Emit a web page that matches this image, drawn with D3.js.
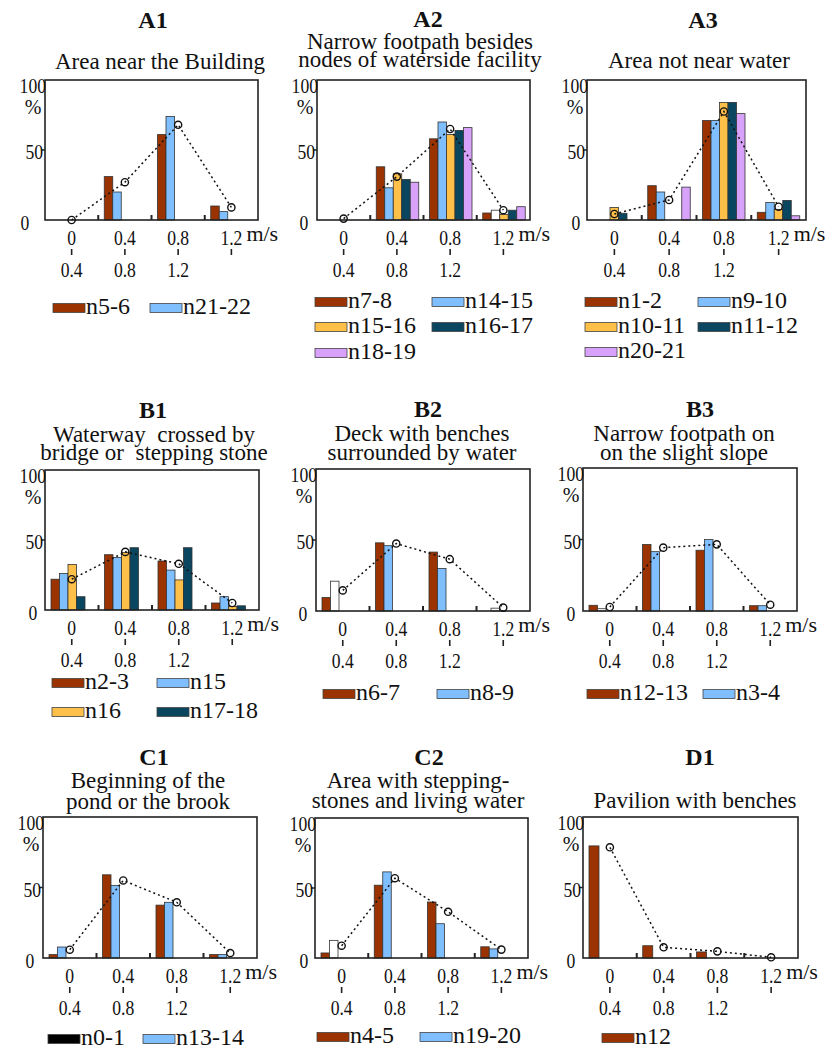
<!DOCTYPE html>
<html>
<head>
<meta charset="utf-8">
<script src="https://cdn.jsdelivr.net/npm/d3@7"></script>
<style>
  body { margin: 0; background: #fff; }
  svg { display: block; }
  text { font-family: "Liberation Serif", "Times New Roman", "DejaVu Serif", serif; fill: #111; }
</style>
</head>
<body>
<svg id="chart" width="825" height="1051"></svg>
<script>
// speed classes (m/s)
const bins = ["0", "0.4", "0.8", "1.2"];
const binUpper = ["0.4", "0.8", "1.2", ""];

const a1Names = ["n5-6", "n21-22"];
const a1Values = [[0, 31, 61, 10], [0, 20, 74, 6]];
const a1Mean = [0, 27, 68, 9];

const a2Names = ["n7-8", "n14-15", "n15-16", "n16-17", "n18-19"];
const a2Values = [[0, 38, 58, 5], [0, 23, 70, 7], [0, 33, 61, 4], [0, 29, 64, 7], [0, 27, 66, 9.5]];
const a2Mean = [1, 31, 65, 7];

const a3Names = ["n1-2", "n9-10", "n10-11", "n11-12", "n20-21"];
const a3Values = [[0, 24.5, 71, 5.5], [0, 20, 71, 12.5], [9, 0, 84, 7.5], [4.8, 0, 84, 14], [0, 23.5, 76, 3]];
const a3Mean = [4.3, 14.3, 77.5, 9.5];

const b1Names = ["n2-3", "n15", "n16", "n17-18"];
const b1Values = [[22, 39.5, 35, 5], [26, 37.5, 28.5, 9.5], [32.5, 41, 21.5, 2.5], [9.5, 44.5, 44.5, 3]];
const b1Mean = [22, 41.5, 33, 5];

const b2Names = ["n6-7", "n8-9"];
const b2Values = [[9.5, 48, 41.5, 0], [21, 46, 30, 2]];
const b2Mean = [14.5, 47.5, 36.5, 2.4];

const b3Names = ["n12-13", "n3-4"];
const b3Values = [[4, 46.5, 42.5, 3.7], [1.6, 41.5, 50, 3.7]];
const b3Mean = [2.8, 44.3, 46.6, 4.4];

const c1Names = ["n0-1", "n13-14"];
const c1Values = [[2.4, 59, 37.5, 2.4], [7.8, 51.5, 39.5, 2.4]];
const c1Mean = [5.9, 55, 39.5, 3.5];

const c2Names = ["n4-5", "n19-20"];
const c2Values = [[3.6, 52, 40, 8], [12.6, 61.5, 24.5, 6.5]];
const c2Mean = [8.8, 57, 33, 6];

const d1Names = ["n12"];
const d1Values = [[79.5, 8.7, 4.3, 0]];
const d1Mean = [78.5, 7.6, 4.7, 0.5];

// bars drawn without fill in the original, as [series, bin]
const hollowA2 = [[1, 3]];
const hollowB2 = [[1, 0], [1, 3]];
const hollowB3 = [[1, 0]];
const hollowC2 = [[1, 0]];

const colors = ["#9a3300", "#80bfff", "#ffc04a", "#0a4660", "#d8a2fb"];

// layout of each panel (positions only)
const panels = [
  { id: "A1", sub: ["Area near the Building"], names: a1Names, values: a1Values, mean: a1Mean, hollow: [],
    box: [45, 258, 80, 220], titleY: 28, titleX: 153, subX: 160, subY: [69], zeroDx: -20,
    legX: [53, 150], legY: [308] },
  { id: "A2", sub: ["Narrow footpath besides", "nodes of waterside facility"], names: a2Names, values: a2Values, mean: a2Mean, hollow: hollowA2,
    box: [317, 530, 80, 220], titleY: 27, titleX: 428, subX: 420, subY: [49, 67], zeroDx: -13,
    legX: [315, 432], legY: [302, 327, 353] },
  { id: "A3", sub: ["Area not near water"], names: a3Names, values: a3Values, mean: a3Mean, hollow: [],
    box: [587, 806, 80, 220], titleY: 28, titleX: 703, subX: 699, subY: [68], zeroDx: -11,
    legX: [585, 698], legY: [302, 327, 352] },
  { id: "B1", sub: ["Waterway  crossed by", "bridge or  stepping stone"], names: b1Names, values: b1Values, mean: b1Mean, hollow: [],
    box: [45, 259, 470, 610], titleY: 418, titleX: 153, subX: 154, subY: [442, 460], zeroDx: -12,
    legX: [52, 157], legY: [683, 712] },
  { id: "B2", sub: ["Deck with benches", "surrounded by water"], names: b2Names, values: b2Values, mean: b2Mean, hollow: hollowB2,
    box: [316, 530, 469, 611], titleY: 417, titleX: 428, subX: 422, subY: [441, 460], zeroDx: -13,
    legX: [323, 437], legY: [694] },
  { id: "B3", sub: ["Narrow footpath on", "on the slight slope"], names: b3Names, values: b3Values, mean: b3Mean, hollow: hollowB3,
    box: [583, 797, 468, 611], titleY: 417, titleX: 700, subX: 684, subY: [441, 460], zeroDx: -12,
    legX: [587, 703], legY: [694] },
  { id: "C1", sub: ["Beginning of the", "pond or the brook"], names: c1Names, values: c1Values, mean: c1Mean, hollow: [],
    box: [43, 257, 817, 958], titleY: 765, titleX: 154, subX: 148, subY: [788, 809], zeroDx: -13,
    legX: [48, 143], legY: [1039], legendColors: ["#000"] },
  { id: "C2", sub: ["Area with stepping-", "stones and living water"], names: c2Names, values: c2Values, mean: c2Mean, hollow: hollowC2,
    box: [315, 528, 818, 958], titleY: 765, titleX: 429, subX: 418, subY: [788, 808], zeroDx: -11,
    legX: [317, 420], legY: [1037] },
  { id: "D1", sub: ["Pavilion with benches"], names: d1Names, values: d1Values, mean: d1Mean, hollow: [],
    box: [583, 798, 817, 958], titleY: 765, titleX: 700, subX: 695, subY: [808], zeroDx: -12,
    legX: [602], legY: [1038], barW: 10 }
];

const svg = d3.select("#chart");
svg.append("rect").attr("width", 825).attr("height", 1051).attr("fill", "#fff");

// narrow digits like the original figure
function narrowText(g, x, y, txt, anchor) {
  g.append("text")
    .attr("transform", `translate(${x},${y}) scale(0.8,1)`)
    .attr("text-anchor", anchor)
    .style("font-size", "22px")
    .text(txt);
}

panels.forEach(p => {
  const [x0, x1, y0, y1] = p.box;
  const g = svg.append("g").attr("class", "panel " + p.id);

  const x = d3.scaleBand().domain(bins).range([x0, x1]);
  const y = d3.scaleLinear().domain([0, 100]).range([y1, y0]);
  const bw = p.barW || 8.5;
  const inner = d3.scaleBand().domain(d3.range(p.names.length))
    .range([6, 6 + bw * p.names.length]);

  // titles
  g.append("text").attr("x", p.titleX).attr("y", p.titleY)
    .attr("text-anchor", "middle")
    .style("font-size", "24px").style("font-weight", "bold")
    .text(p.id);
  p.sub.forEach((s, i) => {
    g.append("text").attr("x", p.subX).attr("y", p.subY[i])
      .attr("text-anchor", "middle")
      .style("font-size", "23px").style("white-space", "pre")
      .text(s);
  });

  // bars
  const isHollow = (s, b) => p.hollow.some(h => h[0] === s && h[1] === b);
  p.values.forEach((row, s) => {
    g.selectAll("rect.s" + s)
      .data(row.map((v, b) => ({ v, b })).filter(d => d.v > 0))
      .join("rect")
      .attr("class", "s" + s)
      .attr("x", d => x(bins[d.b]) + inner(s))
      .attr("width", inner.bandwidth())
      .attr("y", d => y(d.v))
      .attr("height", d => y(0) - y(d.v))
      .attr("fill", d => isHollow(s, d.b) ? "#fff" : colors[s])
      .attr("stroke", "#333")
      .attr("stroke-width", 0.8);
  });

  // box
  g.append("rect").attr("x", x0).attr("y", y0)
    .attr("width", x1 - x0).attr("height", y1 - y0)
    .attr("fill", "none").attr("stroke", "#222").attr("stroke-width", 1.6);

  // separators at group edges
  bins.slice(1).forEach(b => {
    g.append("line").attr("x1", x(b)).attr("x2", x(b))
      .attr("y1", y1 - 5).attr("y2", y1)
      .attr("stroke", "#222").attr("stroke-width", 2);
  });

  // y axis labels
  g.append("line").attr("x1", x0 - 4).attr("x2", x0)
    .attr("y1", y(50)).attr("y2", y(50))
    .attr("stroke", "#222").attr("stroke-width", 1.5);
  narrowText(g, x0 + 1, y(100) + 13, "100", "end");
  g.append("text").attr("x", x0 - 12).attr("y", y(100) + 34)
    .attr("text-anchor", "middle").style("font-size", "20px").text("%");
  narrowText(g, x0 - 2, y(50) + 9, "50", "end");
  narrowText(g, x0 + p.zeroDx, y(0) + 10, "0", "middle");

  // x axis labels: lower bound, tick, upper bound
  bins.forEach((b, i) => {
    const cx = x(b) + x.bandwidth() / 2;
    narrowText(g, cx, y1 + 25, b, "middle");
    g.append("line").attr("x1", cx).attr("x2", cx)
      .attr("y1", y1 + 29).attr("y2", y1 + 35)
      .attr("stroke", "#222").attr("stroke-width", 1.6);
    if (binUpper[i]) narrowText(g, cx, y1 + 57, binUpper[i], "middle");
  });
  g.append("text").attr("x", x(bins[3]) + x.bandwidth() / 2 + 15).attr("y", y1 + 21)
    .style("font-size", "22px").text("m/s");

  // mean line
  const pts = p.mean.map((v, i) => [x(bins[i]) + x.bandwidth() / 2, y(v)]);
  g.append("path").attr("d", d3.line()(pts))
    .attr("fill", "none").attr("stroke", "#111")
    .attr("stroke-width", 1.5).attr("stroke-dasharray", "2,3");
  g.selectAll("circle.mean").data(pts).join("circle")
    .attr("class", "mean")
    .attr("cx", d => d[0]).attr("cy", d => d[1]).attr("r", 3.6)
    .attr("fill", "none").attr("stroke", "#111").attr("stroke-width", 1.4);

  // legend
  p.names.forEach((n, i) => {
    const lx = p.legX[i % 2];
    const ly = p.legY[Math.floor(i / 2)];
    const c = (p.legendColors && p.legendColors[i]) || colors[i];
    g.append("rect").attr("x", lx).attr("y", ly - 4.5)
      .attr("width", 32).attr("height", 9)
      .attr("fill", c).attr("stroke", "#444").attr("stroke-width", 0.8);
    g.append("text").attr("x", lx + 33).attr("y", ly + 6)
      .style("font-size", "24px").text(n);
  });
});
</script>
</body>
</html>
